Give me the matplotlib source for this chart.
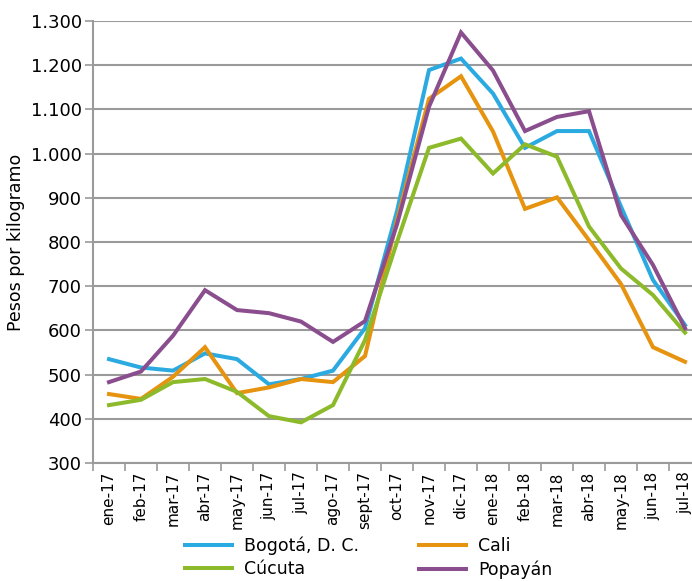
import numpy as np
from matplotlib import pyplot as plt

meses = ['ene-17', 'feb-17', 'mar-17', 'abr-17', 'may-17', 'jun-17', 'jul-17',
         'ago-17', 'sept-17', 'oct-17', 'nov-17', 'dic-17', 'ene-18', 'feb-18',
         'mar-18', 'abr-18', 'may-18', 'jun-18', 'jul-18']

bogota = [535, 516, 509, 548, 535, 478, 490, 509, 605, 870, 1189, 1215, 1136,
          1013, 1051, 1051, 880, 714, 612]
cali = [456, 445, 495, 562, 458, 471, 490, 483, 542, 850, 1124, 1175, 1050,
        875, 901, 804, 705, 562, 529]
cucuta = [431, 443, 483, 490, 461, 406, 392, 431, 578, 800, 1013, 1034, 955,
          1021, 993, 835, 740, 680, 595]
popayan = [483, 507, 588, 691, 646, 639, 620, 574, 621, 840, 1106, 1274, 1188,
           1051, 1083, 1096, 861, 748, 605]

series = [('Bogotá, D. C.', bogota, '#2BAAE1'),
          ('Cali', cali, '#E6930F'),
          ('Cúcuta', cucuta, '#8DBA2A'),
          ('Popayán', popayan, '#8A4E8E')]

plt.rcParams['font.family'] = ['DejaVu Sans']

fig = plt.figure(figsize=(6.92, 5.81), dpi=100)
ax = fig.add_axes([93 / 692, 1 - 463 / 581, 608 / 692, 442 / 581])

x = np.arange(len(meses))
lines = {}
for name, vals, col in series:
    ln, = ax.plot(x, vals, color=col, lw=2.9, label=name, solid_joinstyle='miter', zorder=3)
    lines[name] = ln

ax.set_xlim(-0.5, len(meses) - 0.5)
ax.set_ylim(300, 1300)
ax.set_yticks(range(300, 1301, 100))
ax.set_yticklabels(['{:,}'.format(v).replace(',', '.') for v in range(300, 1301, 100)], fontsize=13)
ax.yaxis.grid(True, color='#9A9A9A', lw=1.5, zorder=1)
ax.set_axisbelow(True)

ax.set_xticks(x)
ax.set_xticklabels(meses, rotation=90, fontsize=11)
ax.set_xticks(np.arange(-0.5, len(meses)), minor=True)
ax.tick_params(axis='x', which='major', length=0, pad=6)
ax.tick_params(axis='x', which='minor', length=6, color='#9A9A9A', width=1.2)
ax.tick_params(axis='y', length=6, color='#9A9A9A', width=1.2, pad=2)

for s in ['top', 'right']:
    ax.spines[s].set_visible(False)
for s in ['left', 'bottom']:
    ax.spines[s].set_color('#9A9A9A')
    ax.spines[s].set_linewidth(1.5)

ax.set_ylabel('Pesos por kilogramo', fontsize=12.5, labelpad=4)

# row-wise legend: Bogotá, Cali / Cúcuta, Popayán
order = ['Bogotá, D. C.', 'Cúcuta', 'Cali', 'Popayán']
fig.legend(handles=[lines[n] for n in order], loc='upper left',
           bbox_to_anchor=(176 / 692, 1 - 528 / 581), borderpad=0,
           ncol=2, frameon=False, fontsize=12.5, handlelength=2.7, columnspacing=3.5,
           labelspacing=0.3, handletextpad=0.7)

plt.savefig('out.png', dpi=100)
